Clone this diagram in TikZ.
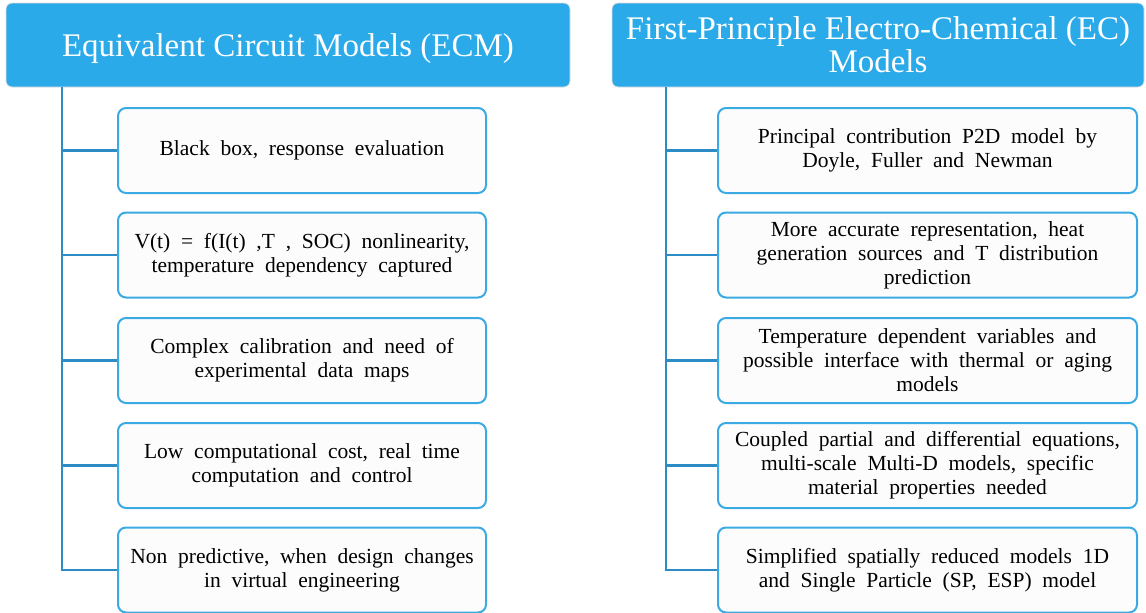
\documentclass[tikz,border=0pt]{standalone}
\usepackage{fontspec}
\setmainfont{Liberation Serif}
\definecolor{headblue}{HTML}{2AAAE8}
\definecolor{lineblue}{HTML}{2B8CC6}
\definecolor{boxblue}{HTML}{3CAAE2}
\newcommand\itemfont{\rmfamily\fontsize{21.5}{24}\selectfont\spaceskip=0.5em\relax}
\begin{document}
\begin{tikzpicture}[x=1pt,y=-1pt,
	head/.style={draw=gray!25,line width=0.8pt,fill=headblue,rounded corners=6pt,text=white,
		align=center,inner sep=0pt,minimum height=84pt,font=\rmfamily\fontsize{33}{33}\selectfont},
	item/.style={draw=boxblue,line width=2pt,fill=gray!2,rounded corners=8pt,align=center,
		inner sep=0pt,minimum height=85pt,font=\itemfont},
	conn/.style={draw=lineblue,line width=2.5pt}]
	\useasboundingbox (0,0) rectangle (1146,613);
	% left column
	\node[head,minimum width=564pt,text height=23pt,text depth=0pt] (lhead) at (288,45) {Equivalent Circuit Models (ECM)};
	\coordinate (ltop) at (62,87);
	\node[item,minimum width=368pt] (l1) at (302,150.5) {Black box, response evaluation};
	\node[item,minimum width=368pt] (l2) at (302,255) {V(t) = f(I(t) ,T , SOC) nonlinearity,\\ temperature dependency captured};
	\node[item,minimum width=368pt] (l3) at (302,360.5) {Complex calibration and need of\\ experimental data maps};
	\node[item,minimum width=368pt] (l4) at (302,465.5) {Low computational cost, real time\\ computation and control};
	\node[item,minimum width=368pt] (l5) at (302,570) {Non predictive, when design changes\\ in virtual engineering};
	% right column
	\node[head,minimum width=532pt] (rhead) at (878,45) {First-Principle Electro-Chemical (EC)\\ Models};
	\coordinate (rtop) at (666,87);
	\node[item,minimum width=419pt] (r1) at (927.5,150.5) {Principal contribution P2D model by\\ Doyle, Fuller and Newman};
	\node[item,minimum width=419pt] (r2) at (927.5,255) {More accurate representation, heat\\ generation sources and T distribution\\ prediction};
	\node[item,minimum width=419pt] (r3) at (927.5,360.5) {Temperature dependent variables and\\ possible interface with thermal or aging\\ models};
	\node[item,minimum width=419pt] (r4) at (927.5,465.5) {Coupled partial and differential equations,\\ multi-scale Multi-D models, specific\\ material properties needed};
	\node[item,minimum width=419pt] (r5) at (927.5,570) {Simplified spatially reduced models 1D\\ and Single Particle (SP, ESP) model};
	% connectors
	\draw[conn] (ltop) |- (l5.west);
	\draw[conn] (rtop) |- (r5.west);
	\foreach \i in {1,...,4} {
		\draw[conn] (ltop |- l\i.west) -- (l\i.west);
		\draw[conn] (rtop |- r\i.west) -- (r\i.west);
	}
\end{tikzpicture}
\end{document}
